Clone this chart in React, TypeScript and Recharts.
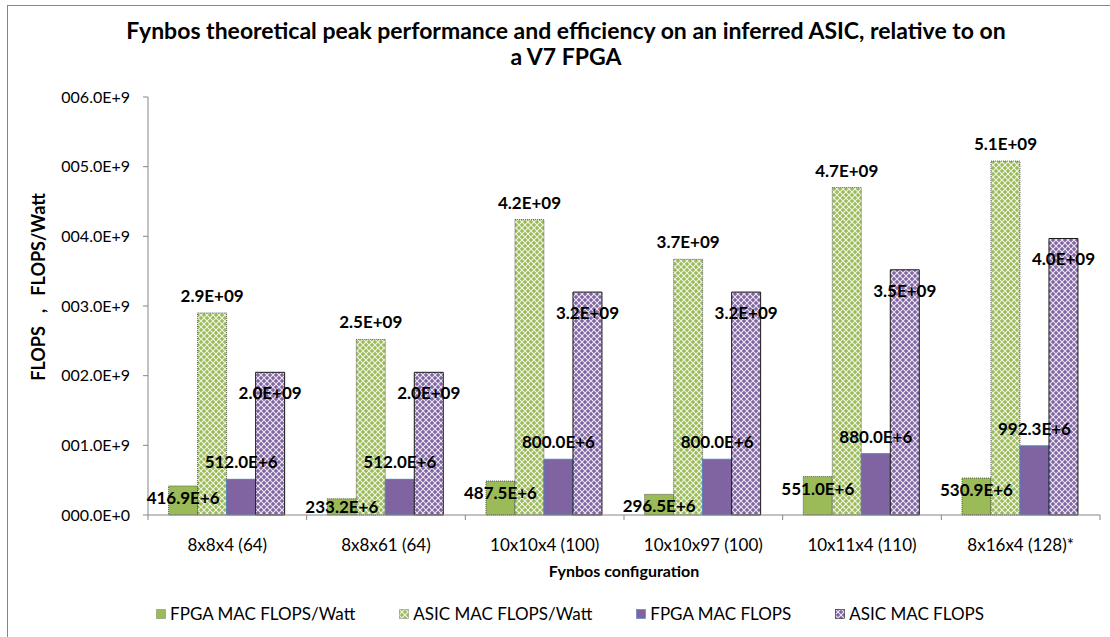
import React from "react";
import { BarChart, Bar, XAxis, YAxis, LabelList, Legend } from "recharts";

const categories = [
  "8x8x4 (64)",
  "8x8x61 (64)",
  "10x10x4 (100)",
  "10x10x97 (100)",
  "10x11x4 (110)",
  "8x16x4 (128)*",
];
const fpgaFlopsPerWatt = [416.9e6, 233.2e6, 487.5e6, 296.5e6, 551.0e6, 530.9e6];
const asicFlopsPerWatt = [2.9e9, 2.52e9, 4.24e9, 3.67e9, 4.7e9, 5.08e9];
const fpgaFlops = [512.0e6, 512.0e6, 800.0e6, 800.0e6, 880.0e6, 992.3e6];
const asicFlops = [2.048e9, 2.048e9, 3.2e9, 3.2e9, 3.52e9, 3.969e9];
const yTicks = [0, 1e9, 2e9, 3e9, 4e9, 5e9, 6e9];

const AXIS = "#868686";
const CHART_W = 1110;
const CHART_H = 637;
const Y_AXIS_W = 148;
const MARGIN = { top: 97, right: 10, bottom: 52, left: 0 };
const HALF_BAND = (CHART_W - MARGIN.right - MARGIN.left - Y_AXIS_W) / categories.length / 2;

const seriesStyles = [
  { key: "fpgaW", name: "FPGA MAC FLOPS/Watt", fill: "#9BBB59", stroke: "#3a3a3a", dash: "1 1" },
  { key: "asicW", name: "ASIC MAC FLOPS/Watt", fill: "url(#asicGreen)", stroke: "#3a3a3a", dash: "1 1" },
  { key: "fpga", name: "FPGA MAC FLOPS", fill: "#8064A2", stroke: "#4F81BD", dash: undefined },
  { key: "asic", name: "ASIC MAC FLOPS", fill: "url(#asicPurple)", stroke: "#1a1a1a", dash: undefined },
];

const fmtGiga = (v: number) => `${(v / 1e9).toFixed(1)}E+09`;
const fmtMega = (v: number) => `${(v / 1e6).toFixed(1)}E+6`;
const fmtYTick = (v: number) => (v === 0 ? "000.0E+0" : `00${(v / 1e9).toFixed(1)}E+9`);

// label placement roughly like Excel: above, inside end, or inside end clamped to the floor
const makeLabel =
  (mode: "above" | "inside" | "floor", fmt: (v: number) => string) => (props: any) => {
    const vb = props.viewBox ?? props;
    const { x, y, width, height } = vb;
    const cx = x + width / 2;
    let baseline = y - 11;
    if (mode === "inside") baseline = y + 27;
    if (mode === "floor") baseline = Math.min(y + 18, y + height - 2);
    return (
      <text x={cx} y={baseline} textAnchor="middle" fontSize={17} fontWeight={700} fill="#000">
        {fmt(Number(props.value))}
      </text>
    );
  };

// category label plus Excel-style tick marks on the category boundaries
const CategoryTick = (props: any) => {
  const { x, y, payload, index } = props;
  const last = index === categories.length - 1;
  return (
    <g>
      <line x1={x - HALF_BAND} x2={x - HALF_BAND} y1={y} y2={y + 5} stroke={AXIS} />
      {last && <line x1={x + HALF_BAND} x2={x + HALF_BAND} y1={y} y2={y + 5} stroke={AXIS} />}
      <text x={x} y={y + 36} textAnchor="middle" fontSize={17} fill="#000">
        {payload.value}
      </text>
    </g>
  );
};

const renderLegend = () => (
  <div style={{ display: "flex", justifyContent: "center", gap: 44, fontSize: 17, color: "#000" }}>
    {seriesStyles.map((s) => (
      <span key={s.key} style={{ display: "flex", alignItems: "center", gap: 4 }}>
        <svg width={10} height={10}>
          <rect x={0.5} y={0.5} width={9} height={9} fill={s.fill} stroke={s.stroke} strokeWidth={0.6} strokeDasharray={s.dash} />
        </svg>
        {s.name}
      </span>
    ))}
  </div>
);

export default function App() {
  const data = categories.map((name, i) => ({
    name,
    fpgaW: fpgaFlopsPerWatt[i],
    asicW: asicFlopsPerWatt[i],
    fpga: fpgaFlops[i],
    asic: asicFlops[i],
  }));

  return (
    <div
      style={{
        position: "absolute",
        left: 0,
        top: 0,
        width: CHART_W,
        height: CHART_H,
        background: "#fff",
        fontFamily: "Lato, sans-serif",
        overflow: "hidden",
      }}
    >
      <div
        style={{
          position: "absolute",
          left: 7,
          top: 5,
          width: 1103,
          height: 632,
          borderTop: `1px solid ${AXIS}`,
          borderLeft: `1px solid ${AXIS}`,
          boxSizing: "border-box",
        }}
      />
      <div
        style={{
          position: "absolute",
          left: 16,
          top: 17,
          width: 1100,
          textAlign: "center",
          fontWeight: 700,
          fontSize: 23,
          lineHeight: "26px",
          color: "#000",
        }}
      >
        Fynbos theoretical peak performance and efficiency on an inferred ASIC, relative to on
        <br />a V7 FPGA
      </div>
      <div style={{ position: "absolute", left: 0, top: 0 }}>
        <BarChart
          width={CHART_W}
          height={CHART_H}
          data={data}
          margin={MARGIN}
          barCategoryGap="13%"
          barGap={0}
        >
          <defs>
            <pattern id="asicGreen" width={6} height={6} patternUnits="userSpaceOnUse">
              <rect width={6} height={6} fill="#9BBB59" />
              <path d="M0 0 L6 6 M6 0 L0 6" stroke="#ffffff" strokeWidth={1.1} opacity={0.85} />
              <circle cx={3} cy={3} r={0.6} fill="#e8f0d8" />
            </pattern>
            <pattern id="asicPurple" width={6} height={6} patternUnits="userSpaceOnUse">
              <rect width={6} height={6} fill="#8064A2" />
              <path d="M0 0 L6 6 M6 0 L0 6" stroke="#ffffff" strokeWidth={1.1} opacity={0.85} />
              <circle cx={3} cy={3} r={0.6} fill="#e4dcef" />
            </pattern>
          </defs>
          <XAxis
            dataKey="name"
            interval={0}
            tickLine={false}
            axisLine={{ stroke: AXIS }}
            tick={<CategoryTick />}
            tickSize={0}
            tickMargin={0}
            height={70}
            label={{
              value: "Fynbos configuration",
              position: "insideBottom",
              offset: 8,
              fontSize: 16,
              fontWeight: 700,
              fill: "#000",
            }}
          />
          <YAxis
            width={Y_AXIS_W}
            domain={[0, 6e9]}
            ticks={yTicks}
            tickFormatter={fmtYTick}
            tick={{ fontSize: 16, fill: "#000" }}
            tickLine={{ stroke: AXIS }}
            axisLine={{ stroke: AXIS }}
            tickSize={5}
            tickMargin={13}
            label={() => (
              <text
                x={40}
                y={287}
                transform="rotate(-90, 40, 287)"
                textAnchor="middle"
                dominantBaseline="middle"
                fontSize={18}
                fontWeight={700}
                fill="#000"
              >
                {"FLOPS\u00a0\u00a0\u00a0,\u00a0\u00a0\u00a0FLOPS/Watt"}
              </text>
            )}
          />
          <Legend
            layout="horizontal"
            verticalAlign="middle"
            align="center"
            content={renderLegend}
            wrapperStyle={{ top: 603, left: 0, width: 1140 }}
          />
          <Bar dataKey="fpgaW" name={seriesStyles[0].name} fill={seriesStyles[0].fill} stroke={seriesStyles[0].stroke} strokeDasharray="1 1" strokeWidth={0.8} isAnimationActive={false}>
            <LabelList dataKey="fpgaW" content={makeLabel("floor", fmtMega)} />
          </Bar>
          <Bar dataKey="asicW" name={seriesStyles[1].name} fill={seriesStyles[1].fill} stroke={seriesStyles[1].stroke} strokeDasharray="1 1" strokeWidth={0.8} isAnimationActive={false}>
            <LabelList dataKey="asicW" content={makeLabel("above", fmtGiga)} />
          </Bar>
          <Bar dataKey="fpga" name={seriesStyles[2].name} fill={seriesStyles[2].fill} stroke={seriesStyles[2].stroke} strokeWidth={1} isAnimationActive={false}>
            <LabelList dataKey="fpga" content={makeLabel("above", fmtMega)} />
          </Bar>
          <Bar dataKey="asic" name={seriesStyles[3].name} fill={seriesStyles[3].fill} stroke={seriesStyles[3].stroke} strokeWidth={1} isAnimationActive={false}>
            <LabelList dataKey="asic" content={makeLabel("inside", fmtGiga)} />
          </Bar>
        </BarChart>
      </div>
    </div>
  );
}
